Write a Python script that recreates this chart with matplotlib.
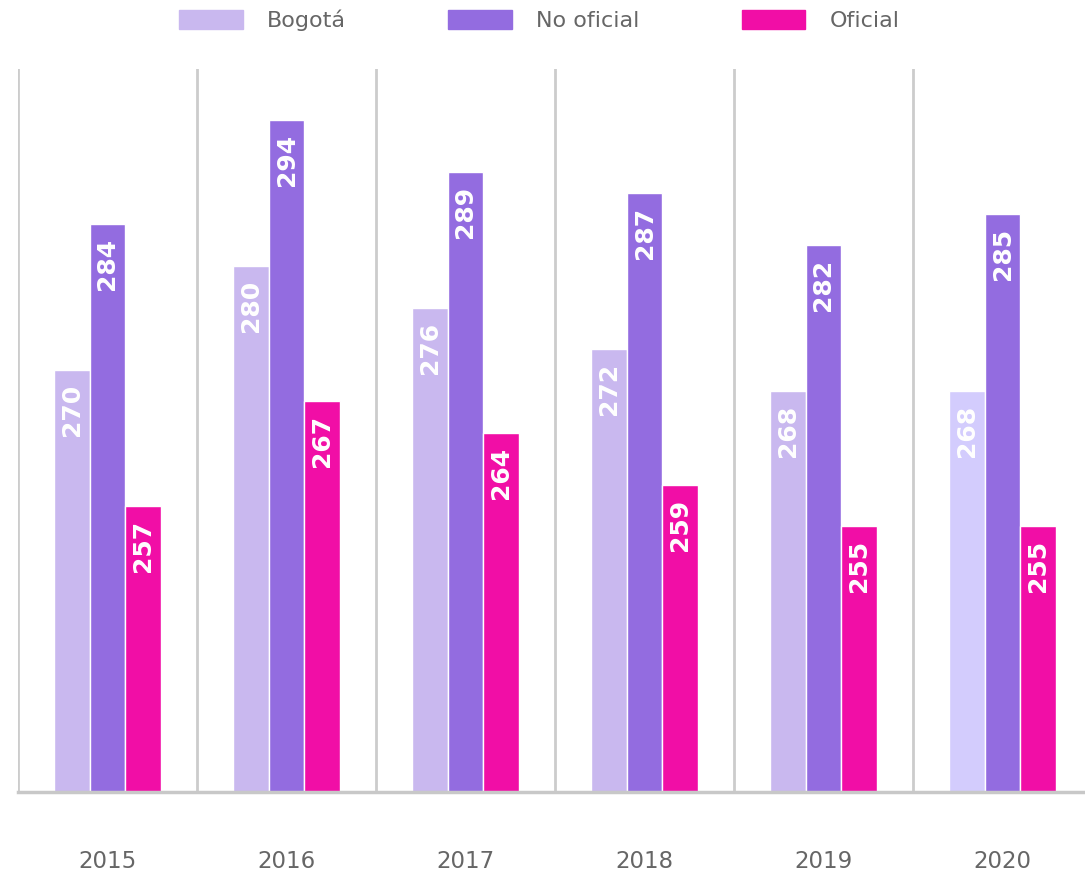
import matplotlib.pyplot as plt
from matplotlib.patches import Patch

# datos
years = ['2015', '2016', '2017', '2018', '2019', '2020']
bogota = [270, 280, 276, 272, 268, 268]
no_oficial = [284, 294, 289, 287, 282, 285]
oficial = [257, 267, 264, 259, 255, 255]
series_names = ['Bogotá', 'No oficial', 'Oficial']

c_bog = '#c9b8ef'
c_bog_2020 = '#d3ccfd'
c_nof = '#936ce0'
c_of = '#f10ea6'
grid_c = '#cccccc'

fig = plt.figure(figsize=(10.85, 8.77), dpi=100)
W, H = 1085, 877
# eje: de x=18 a la derecha, de y=69 a y=792 (pixeles)
ax = fig.add_axes([18 / W, (H - 792) / H, 1 - 18 / W, (792 - 69) / H])

ngroups = len(years)
group_px = 179
xmax = (W - 18) / group_px
bw = 0.2

bog_colors = [c_bog] * (ngroups - 1) + [c_bog_2020]
centers = [i + 0.5 for i in range(ngroups)]
ymin, ymax = 229.5, 298.9

series = [
    ([c - bw for c in centers], bogota, bog_colors),
    (centers, no_oficial, [c_nof] * ngroups),
    ([c + bw for c in centers], oficial, [c_of] * ngroups),
]
for xs, vals, cols in series:
    bars = ax.bar(xs, [v - ymin for v in vals], bottom=ymin, width=bw,
                  color=cols, edgecolor='white', linewidth=1, zorder=3)
    for b, v in zip(bars, vals):
        ax.annotate(str(v), (b.get_x() + b.get_width() / 2, v),
                    xytext=(0, -10), textcoords='offset points',
                    rotation=90, ha='center', va='top', color='white',
                    fontsize=18, fontweight='bold', zorder=4)

# separadores verticales
for i in range(ngroups):
    ax.axvline(i, color=grid_c, lw=2, zorder=1)
ax.axhline(ymin, color='#c8c8c8', lw=2.5, zorder=5, clip_on=False)

ax.set_xlim(0, xmax)
ax.set_ylim(ymin, ymax)
for s in ax.spines.values():
    s.set_visible(False)
ax.set_yticks([])
ax.set_xticks(centers)
ax.set_xticklabels(years, fontsize=16.5, color='#666666')
ax.tick_params(axis='x', length=0, pad=42)

handles = [Patch(color=c_bog, label=series_names[0]),
           Patch(color=c_nof, label=series_names[1]),
           Patch(color=c_of, label=series_names[2])]
fig.legend(handles=handles, loc='upper center', bbox_to_anchor=(0.497, 1.012),
           ncol=3, frameon=False, fontsize=16, labelcolor='#666666',
           handlelength=2.85, handleheight=0.9, handletextpad=1.1,
           columnspacing=4.6)

fig.savefig('out.png', dpi=100)
